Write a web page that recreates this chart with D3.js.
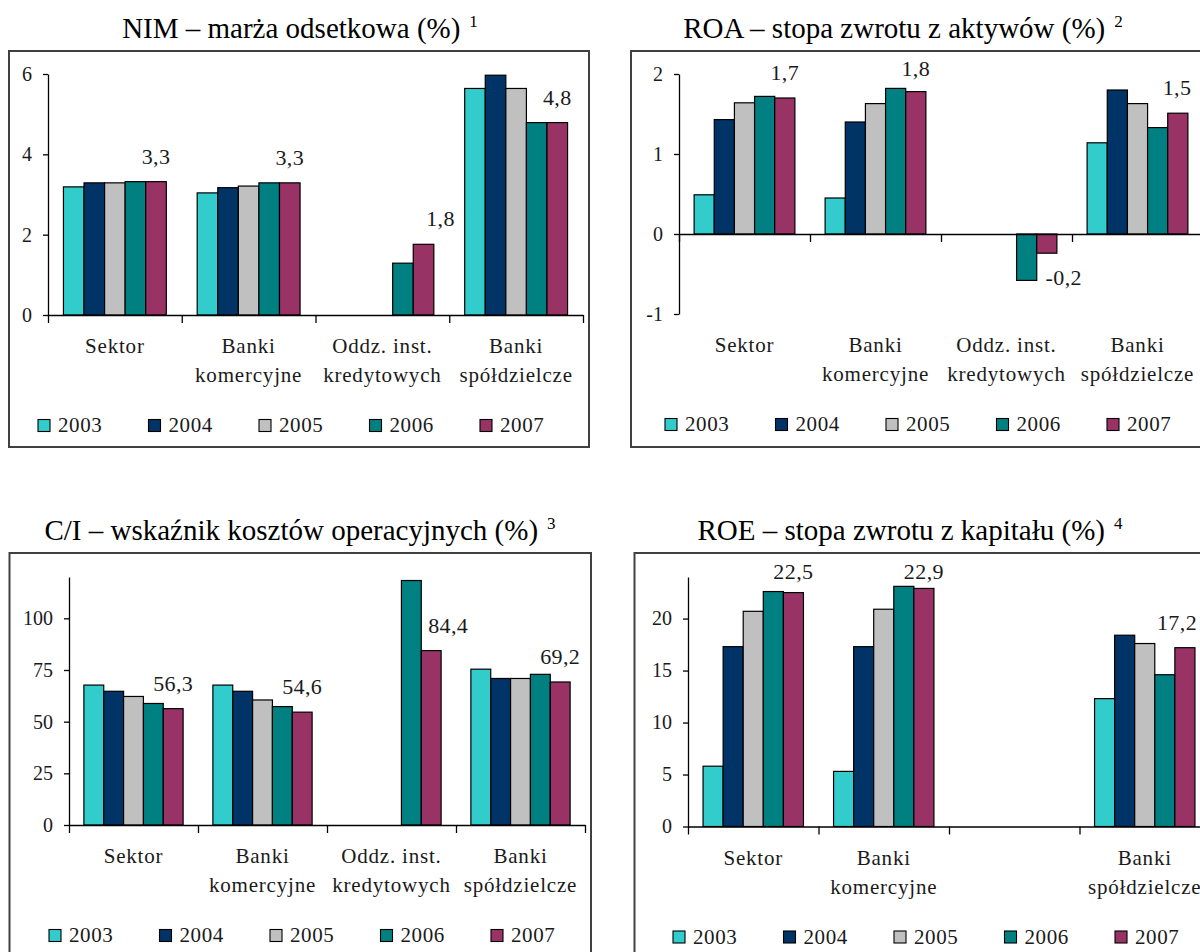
<!DOCTYPE html>
<html lang="pl">
<head>
<meta charset="utf-8">
<title>Wskaźniki efektywności sektora bankowego 2003–2007</title>
<script src="https://cdn.jsdelivr.net/npm/d3@7/dist/d3.min.js"></script>
<style>
  html, body { margin: 0; padding: 0; background: #fff; }
  svg { display: block; }
  svg text { font-family: "Liberation Serif", "Times New Roman", Times, serif; fill: #1a1a1a; }
</style>
</head>
<body>
<svg id="chart" width="1200" height="952"></svg>
<script>
// ---- data -----------------------------------------------------------
const years = ["2003", "2004", "2005", "2006", "2007"];
const yearColors = ["#33CCCC", "#003366", "#C0C0C0", "#008080", "#993366"];

const categories = [["Sektor"], ["Banki", "komercyjne"], ["Oddz. inst.", "kredytowych"], ["Banki", "spółdzielcze"]];
const roeCategories = [["Sektor"], ["Banki", "komercyjne"], [], ["Banki", "spółdzielcze"]];

// one row per year, one column per category (null = no data)
const nimValues = [
  [3.19, 3.04, null, 5.64],
  [3.29, 3.17, null, 5.97],
  [3.29, 3.21, null, 5.64],
  [3.32, 3.29, 1.29, 4.79],
  [3.32, 3.29, 1.76, 4.79]
];
const roaValues = [
  [0.49, 0.45, null, 1.14],
  [1.43, 1.40, null, 1.80],
  [1.64, 1.63, null, 1.63],
  [1.72, 1.82, -0.58, 1.33],
  [1.70, 1.78, -0.24, 1.51]
];
const ciValues = [
  [67.7, 67.7, null, 75.4],
  [64.7, 64.7, null, 70.9],
  [62.2, 60.5, null, 70.9],
  [58.8, 57.3, 118.3, 72.9],
  [56.3, 54.6, 84.4, 69.2]
];
const roeValues = [
  [5.8, 5.3, null, 12.3],
  [17.3, 17.3, null, 18.4],
  [20.7, 20.9, null, 17.6],
  [22.6, 23.1, null, 14.6],
  [22.5, 22.9, null, 17.2]
];

const nimTicks = [0, 2, 4, 6];
const roaTicks = [-1, 0, 1, 2];
const ciTicks = [0, 25, 50, 75, 100];
const roeTicks = [0, 5, 10, 15, 20];

// ---- panel layout ---------------------------------------------------
const panels = [
  { title: "NIM – marża odsetkowa (%)", sup: "1", titleX: 300, titleY: 37.5,
    frame: [9, 51, 589, 447], axisX: 48, axisRight: 583, yTop: 74, yBottom: 315,
    domain: [0, 6], ticks: nimTicks, values: nimValues, cats: categories, legendX: 38 },
  { title: "ROA – stopa zwrotu z aktywów (%)", sup: "2", titleX: 903, titleY: 37.5,
    frame: [631, 51, 1250, 447], axisX: 679, axisRight: 1203, yTop: 74, yBottom: 314,
    domain: [-1, 2], ticks: roaTicks, values: roaValues, cats: categories, legendX: 665 },
  { title: "C/I – wskaźnik kosztów operacyjnych (%)", sup: "3", titleX: 300, titleY: 540,
    frame: [9.5, 553, 591, 1000], axisX: 69, axisRight: 585, yTop: 577, yBottom: 825,
    domain: [0, 120], ticks: ciTicks, values: ciValues, cats: categories, legendX: 49 },
  { title: "ROE – stopa zwrotu z kapitału (%)", sup: "4", titleX: 910, titleY: 540,
    frame: [634.5, 553, 1250, 1000], axisX: 688, axisRight: 1210, yTop: 577, yBottom: 826.5,
    domain: [0, 24], ticks: roeTicks, values: roeValues, cats: roeCategories, legendX: 673 }
];

const SERIF = '"Liberation Serif", "Times New Roman", Times, serif';
const fmtLabel = v => v.toFixed(1).replace(".", ",");
const svg = d3.select("#chart").attr("font-family", SERIF);

svg.append("rect").attr("width", 1200).attr("height", 952).attr("fill", "#fff");

function drawPanel(cfg) {
  const g = svg.append("g");
  const [fx0, fy0, fx1, fy1] = cfg.frame;

  // outer frame
  g.append("rect")
    .attr("x", fx0).attr("y", fy0)
    .attr("width", fx1 - fx0).attr("height", fy1 - fy0)
    .attr("fill", "none").attr("stroke", "#404040").attr("stroke-width", 2);

  // title with footnote mark
  const t = g.append("text")
    .attr("x", cfg.titleX).attr("y", cfg.titleY)
    .attr("text-anchor", "middle")
    .style("font-size", "29px").style("fill", "#000")
    .text(cfg.title);
  t.append("tspan").attr("dx", 9).attr("dy", -11)
    .style("font-size", "17px").text(cfg.sup);

  // scales
  const nCat = cfg.cats.length;
  const x0 = d3.scaleBand().domain(d3.range(nCat))
    .range([cfg.axisX, cfg.axisRight]).paddingInner(0).paddingOuter(0);
  const x1 = d3.scaleBand().domain(years)
    .range([0, x0.bandwidth()]).paddingInner(0).paddingOuter(0.75);
  const y = d3.scaleLinear().domain(cfg.domain).range([cfg.yBottom, cfg.yTop]);
  const xEdges = d3.scaleLinear().domain([0, nCat]).range([cfg.axisX, cfg.axisRight]);

  // bars
  const barData = [];
  cfg.values.forEach((row, yi) => {
    row.forEach((v, ci) => {
      if (v !== null) barData.push({ year: years[yi], yi, ci, v });
    });
  });
  g.append("g").selectAll("rect")
    .data(barData)
    .join("rect")
    .attr("x", d => x0(d.ci) + x1(d.year))
    .attr("width", x1.bandwidth())
    .attr("y", d => y(Math.max(0, d.v)))
    .attr("height", d => Math.abs(y(d.v) - y(0)))
    .attr("fill", d => yearColors[d.yi])
    .attr("stroke", "#000").attr("stroke-width", 1.2);

  // value axis
  const yAxis = g.append("g")
    .attr("transform", `translate(${cfg.axisX},0)`)
    .call(d3.axisLeft(y).tickValues(cfg.ticks).tickSize(5).tickSizeOuter(0)
      .tickPadding(11).tickFormat(d => String(d)));
  yAxis.attr("font-family", SERIF).attr("font-size", 20);
  yAxis.selectAll("path, line").attr("stroke", "#000").attr("stroke-width", 1.3);
  yAxis.selectAll("text").attr("fill", "#1a1a1a");

  // category axis at zero with boundary ticks
  const xAxis = g.append("g")
    .attr("transform", `translate(0,${y(0)})`)
    .call(d3.axisBottom(xEdges).tickValues(d3.range(nCat + 1)).tickSize(8)
      .tickSizeOuter(0).tickFormat(""));
  xAxis.selectAll("path, line").attr("stroke", "#000").attr("stroke-width", 1.3);

  // category labels under the plot
  const catG = g.append("g");
  cfg.cats.forEach((lines, ci) => {
    lines.forEach((line, li) => {
      catG.append("text")
        .attr("x", x0(ci) + x0.bandwidth() / 2)
        .attr("y", cfg.yBottom + 38 + li * 29)
        .attr("text-anchor", "middle")
        .style("font-size", "21px").style("letter-spacing", "0.8px")
        .text(line);
    });
  });

  // value labels on the latest year
  const last = years.length - 1;
  const labelG = g.append("g");
  cfg.values[last].forEach((v, ci) => {
    if (v === null) return;
    const cx = Math.min(x0(ci) + x1(years[last]) + x1.bandwidth() / 2 + (ci === 2 ? 17 : 0), 1177);
    const ty = v >= 0 ? Math.max(y(v) - 18, cfg.yTop + 2) : y(v) + 32;
    labelG.append("text")
      .attr("x", cx).attr("y", ty)
      .attr("text-anchor", "middle")
      .style("font-size", "22px").style("letter-spacing", "0.4px")
      .text(fmtLabel(v));
  });

  // legend
  const legendBase = cfg.yBottom + 117;
  const lg = g.append("g");
  years.forEach((yr, i) => {
    const lx = cfg.legendX + i * 110.5;
    lg.append("rect")
      .attr("x", lx).attr("y", legendBase - 12.5)
      .attr("width", 12).attr("height", 12)
      .attr("fill", yearColors[i]).attr("stroke", "#000").attr("stroke-width", 1.1);
    lg.append("text")
      .attr("x", lx + 20).attr("y", legendBase)
      .style("font-size", "21px").style("letter-spacing", "0.6px")
      .text(yr);
  });
}

panels.forEach(drawPanel);
</script>
</body>
</html>
